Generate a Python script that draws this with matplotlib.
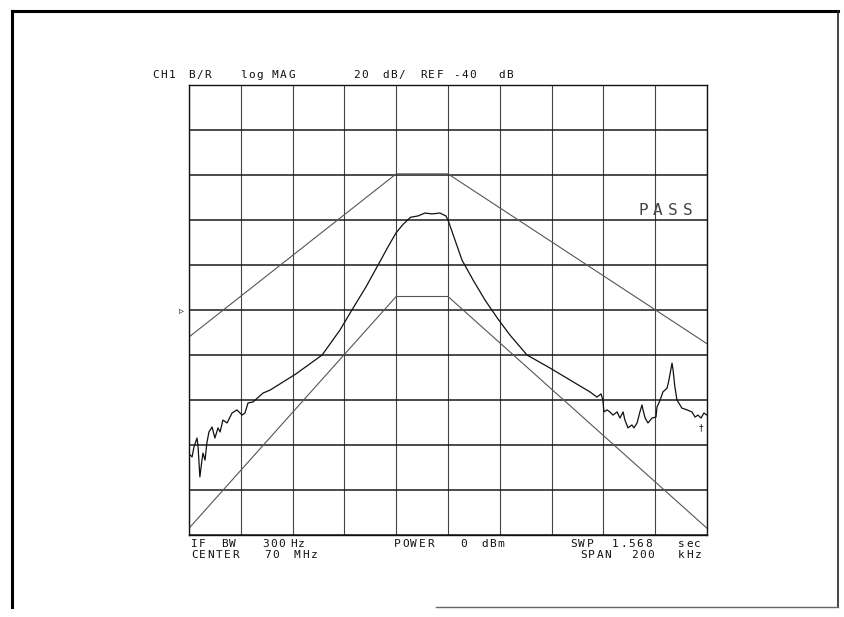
import numpy as np
import matplotlib
matplotlib.use("Agg")
import matplotlib.pyplot as plt
from matplotlib.lines import Line2D

W, H = 844, 617

# frequency offset from 70 MHz in kHz, magnitude in dB
lim_hi_x = [-100, -20, 0, 100]
lim_hi_y = [-52, 20.5, 20.5, -55]
lim_lo_x = [-100, -20, 0, 100]
lim_lo_y = [-137, -34, -34, -137]

meas_x = [-99.6, -98.8, -98.1, -96.9, -96.5, -95.8, -95.0, -94.6, -93.8, -93.1,
          -92.3, -91.1, -90.0, -88.8, -88.0, -86.9, -85.3, -83.4, -81.5, -79.5,
          -78.4, -77.2, -75.3, -71.4, -68.7, -58.7, -48.6, -41.7, -37.1, -31.7,
          -27.0, -23.2, -20.1, -17.4, -14.5, -11.6, -8.9, -6.2, -3.1, -0.8,
          0.0, 2.7, 5.4, 9.7, 14.3, 19.3, 23.9, 30.5, 39.4, 51.0,
          54.8, 57.5, 59.1, 59.8, 60.2, 61.4, 62.5, 63.7, 65.3, 66.4,
          67.6, 68.3, 69.5, 71.0, 71.8, 73.0, 74.1, 74.9, 75.3, 76.1,
          77.2, 78.8, 80.3, 80.7, 81.9, 83.0, 84.6, 85.3, 86.5, 86.9,
          87.6, 88.4, 90.3, 92.3, 94.2, 95.4, 96.5, 97.7, 98.8, 100.0]
meas_y = [-104.4, -105.3, -100.9, -96.9, -100.9, -114.2, -106.7, -103.6, -106.7, -99.1,
          -94.2, -92.0, -96.9, -92.4, -94.2, -88.9, -90.2, -85.8, -84.4, -86.7,
          -85.8, -81.3, -80.9, -76.9, -75.6, -68.4, -60.0, -48.9, -40.0, -29.8,
          -20.0, -12.0, -5.8, -2.0, 1.2, 1.8, 3.1, 2.7, 3.1, 1.8,
          0.0, -8.9, -17.8, -26.7, -35.6, -44.0, -51.1, -60.0, -65.8, -73.8,
          -76.4, -78.7, -77.3, -80.0, -85.3, -84.4, -85.3, -86.7, -85.3, -88.0,
          -85.3, -88.9, -92.4, -91.1, -92.4, -90.2, -85.3, -82.2, -84.4, -88.0,
          -90.2, -88.0, -87.6, -83.1, -80.0, -76.4, -74.7, -71.1, -63.6, -66.7,
          -74.2, -80.0, -83.6, -84.4, -85.3, -87.6, -86.7, -88.0, -85.8, -86.7]

header = [("CH1", 152), ("B/R", 188), ("log", 240), ("MAG", 272), ("20", 353),
          ("dB/", 382), ("REF", 420), ("-40", 453), ("dB", 498)]
foot1 = [("IF", 191), ("BW", 221), ("300", 262), ("Hz", 290), ("POWER", 394),
         ("0", 460), ("dBm", 481), ("SWP", 570), ("1.568", 612), ("sec", 678)]
foot2 = [("CENTER", 191), ("70", 264), ("MHz", 294), ("SPAN", 580), ("200", 631),
         ("kHz", 678)]

fig = plt.figure(figsize=(W / 100, H / 100), dpi=100)
fig.patch.set_facecolor("white")


def fx(px):
    return px / W


def fy(py):
    return 1 - py / H


def plotter_text(x, y, s, pitch=8.2, size=8, color="#111"):
    # one glyph at a time, like the pen plotter
    for i, ch in enumerate(s):
        if ch != " ":
            fig.text(fx(x + i * pitch), fy(y), ch, fontsize=size, color=color,
                     family="DejaVu Sans Mono", ha="left", va="center")


ax = fig.add_axes([fx(189), fy(535), fx(707) - fx(189), fy(85) - fy(535)])
ax.set_xlim(-100, 100)
ax.set_ylim(-140, 60)
ax.set_xticks(np.arange(-100, 101, 20))
ax.set_yticks(np.arange(-140, 61, 20))
ax.tick_params(length=0, labelbottom=False, labelleft=False)
ax.xaxis.grid(True, color="#444", lw=0.8)
ax.yaxis.grid(True, color="#1a1a1a", lw=1.1)
for sp in ax.spines.values():
    sp.set_color("#111")
    sp.set_linewidth(1.0)

ax.plot(lim_hi_x, lim_hi_y, color="#555", lw=0.8)
ax.plot(lim_lo_x, lim_lo_y, color="#555", lw=0.8)
ax.plot(meas_x, meas_y, color="#111", lw=0.9)

for s, x in header:
    plotter_text(x, 75, s)
for s, x in foot1:
    plotter_text(x, 544, s)
for s, x in foot2:
    plotter_text(x, 555, s)

plotter_text(638, 210, "PASS", pitch=15, size=11.5, color="#444")
fig.text(fx(179), fy(310), "\u25b9", fontsize=7, ha="left", va="center", color="#222")
fig.text(fx(701), fy(428), "\u2020", fontsize=6.5, ha="center", va="center", color="#111")

# page border of the scanned sheet
fig.add_artist(Line2D([fx(12), fx(12)], [fy(11), fy(607)], color="black", lw=2.2))
fig.add_artist(Line2D([fx(12), fx(838)], [fy(11), fy(11)], color="black", lw=2.2))
fig.add_artist(Line2D([fx(838), fx(838)], [fy(11), fy(607)], color="#222", lw=1.2))
fig.add_artist(Line2D([fx(436), fx(838)], [fy(607), fy(607)], color="#666", lw=1.0))

fig.savefig("out.png", dpi=100)
